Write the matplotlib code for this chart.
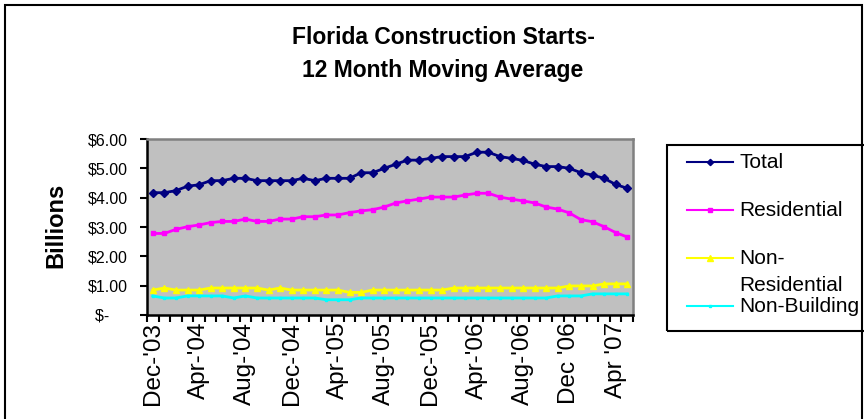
import matplotlib
matplotlib.use('Agg')
import matplotlib.pyplot as plt
from matplotlib.patches import Rectangle
from matplotlib.lines import Line2D

plt.rcParams['font.family'] = ['Liberation Sans', 'DejaVu Sans']

# 12 month moving average, billions of dollars, Dec-03 .. May-07
total = [4.17, 4.17, 4.24, 4.39, 4.44, 4.58, 4.58, 4.66, 4.66, 4.58,
         4.58, 4.58, 4.58, 4.66, 4.58, 4.66, 4.66, 4.66, 4.85, 4.85,
         5.00, 5.14, 5.28, 5.28, 5.34, 5.40, 5.40, 5.40, 5.55, 5.55,
         5.40, 5.34, 5.27, 5.14, 5.06, 5.06, 5.00, 4.85, 4.77, 4.66,
         4.45, 4.32]
residential = [2.78, 2.78, 2.92, 3.01, 3.07, 3.15, 3.19, 3.19, 3.27, 3.19,
               3.19, 3.27, 3.27, 3.35, 3.35, 3.41, 3.41, 3.49, 3.55, 3.59,
               3.68, 3.82, 3.89, 3.95, 4.02, 4.02, 4.02, 4.09, 4.15, 4.15,
               4.02, 3.95, 3.89, 3.82, 3.68, 3.61, 3.48, 3.25, 3.18, 3.01,
               2.81, 2.66]
non_residential = [0.85, 0.92, 0.85, 0.85, 0.85, 0.92, 0.92, 0.92, 0.92, 0.92,
                   0.85, 0.92, 0.85, 0.85, 0.85, 0.85, 0.85, 0.77, 0.77, 0.85,
                   0.85, 0.85, 0.85, 0.85, 0.85, 0.85, 0.92, 0.92, 0.92, 0.92,
                   0.92, 0.92, 0.92, 0.92, 0.92, 0.92, 0.99, 0.99, 0.99, 1.06,
                   1.06, 1.06]
non_building = [0.65, 0.58, 0.58, 0.65, 0.65, 0.65, 0.65, 0.58, 0.65, 0.58,
                0.58, 0.58, 0.58, 0.58, 0.58, 0.52, 0.52, 0.52, 0.58, 0.58,
                0.58, 0.58, 0.58, 0.58, 0.58, 0.58, 0.58, 0.58, 0.58, 0.58,
                0.58, 0.58, 0.58, 0.58, 0.58, 0.65, 0.65, 0.65, 0.72, 0.72,
                0.72, 0.72]
month_labels = ["Dec-'03", "Apr-'04", "Aug-'04", "Dec-'04", "Apr-'05", "Aug-'05",
                "Dec-'05", "Apr-'06", "Aug-'06", "Dec '06", "Apr '07"]
y_labels = ['$-    ', '$1.00', '$2.00', '$3.00', '$4.00', '$5.00', '$6.00']

fig = plt.figure(figsize=(8.64, 4.19), dpi=100)
ax = fig.add_axes([147/864, 1-315/419, 486/864, 176/419])
ax.set_facecolor('#C0C0C0')

x = list(range(len(total)))
series = [
    ('Total', total, dict(color='#000080', marker='D', ms=4, lw=2)),
    ('Residential', residential, dict(color='#FF00FF', marker='s', ms=3.5, lw=2)),
    ('Non-Residential', non_residential, dict(color='#FFFF00', marker='^', ms=5, lw=2)),
    ('Non-Building', non_building, dict(color='#00FFFF', marker='s', ms=2, lw=2)),
]
for name, vals, st in series:
    ax.plot(x, vals, mec=st['color'], **st)

ax.set_xlim(-0.5, len(total) - 0.5)
ax.set_ylim(0, 6)
ax.set_yticks(range(7))
ax.set_yticklabels(y_labels, fontsize=11.5)
ax.tick_params(axis='y', direction='out', length=5, width=1.5, pad=9)

ax.set_xticks(range(0, len(total), 4))
ax.set_xticklabels(month_labels, rotation=90, fontsize=17.5)
ax.set_xticks([i - 0.5 for i in range(len(total) + 1)], minor=True)
ax.tick_params(axis='x', which='major', length=0, pad=5)
ax.tick_params(axis='x', which='minor', direction='out', length=5, width=1.5)

for s in ['left', 'bottom']:
    ax.spines[s].set_color('black')
    ax.spines[s].set_linewidth(1.8)
for s in ['top', 'right']:
    ax.spines[s].set_color('#808080')
    ax.spines[s].set_linewidth(1.8)

fig.text(56/864, 1-225/419, 'Billions', rotation=90, fontsize=17, fontweight='bold',
         ha='center', va='center')
fig.text(443/864, 1-38/419, 'Florida Construction Starts-', fontsize=16.5,
         fontweight='bold', ha='center', va='center')
fig.text(443/864, 1-70/419, '12 Month Moving Average', fontsize=16.5,
         fontweight='bold', ha='center', va='center')

# outer chart frame
fig.patches.append(Rectangle((5/864, -0.1), 857/864, 1.1 - 5/419, transform=fig.transFigure,
                             fill=False, edgecolor='black', lw=1.5))

# legend box
fig.patches.append(Rectangle((667/864, 1-331/419), 0.3, 186/419, transform=fig.transFigure,
                             fill=False, edgecolor='black', lw=1.5))
leg_y = [162, 210, 258, 306]
for (name, vals, st), yy in zip(series, leg_y):
    yf = 1 - yy/419
    fig.lines.append(Line2D([687/864, 733/864], [yf, yf], transform=fig.transFigure,
                            color=st['color'], lw=1.5))
    fig.lines.append(Line2D([710/864], [yf], transform=fig.transFigure, color=st['color'],
                            marker=st['marker'], ms=st['ms'] * 0.8, mec=st['color']))
legend_text = [('Total', 162), ('Residential', 210), ('Non-', 258),
               ('Residential', 285), ('Non-Building', 306)]
for t, yy in legend_text:
    fig.text(739/864, 1-yy/419, t, fontsize=15, ha='left', va='center')

fig.savefig('out.png', dpi=100)
